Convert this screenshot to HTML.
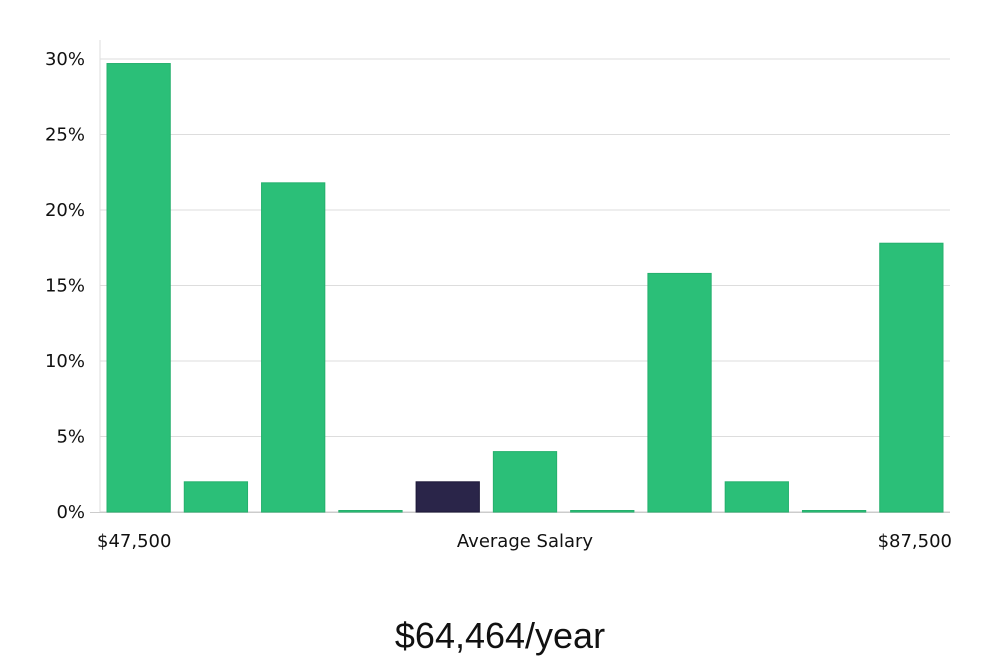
<!DOCTYPE html>
<html><head><meta charset="utf-8"><style>
body{margin:0;background:#fff;width:1000px;height:660px;overflow:hidden;font-family:"DejaVu Sans","Liberation Sans",sans-serif}
</style></head><body>
<svg id="chart" width="1000" height="660" xmlns="http://www.w3.org/2000/svg"></svg>
<script>
const categories=["b1","b2","b3","b4","b5","b6","b7","b8","b9","b10","b11"];
const values=[29.7,2,21.8,0,2,4,0,15.8,2,0,17.8];
const highlight=[false,false,false,false,true,false,false,false,false,false,false];
const yTicks=[0,5,10,15,20,25,30];
const yTickLabels=["0%","5%","10%","15%","20%","25%","30%"];
const ns="http://www.w3.org/2000/svg";
const svg=document.getElementById("chart");
const x0=100,x1=950,y0=512,yTop=59,yMax=30;
const y=v=>y0-(v/yMax)*(y0-yTop);
const band=(x1-x0)/categories.length;
function mk(t,a,txt){const e=document.createElementNS(ns,t);for(const k in a)e.setAttribute(k,a[k]);if(txt!==undefined)e.textContent=txt;svg.appendChild(e);return e;}
yTicks.forEach((t,i)=>{
 const g=mk("line",{x1:x0,x2:x1,y1:y(t),y2:y(t),stroke:t===0?"#ccc":"#ddd","stroke-width":1});
 
 
 const l=mk("text",{x:85,y:y(t)+6,"text-anchor":"end","font-size":18,fill:"#111"},yTickLabels[i]);
 
 
});
const ax=mk("line",{x1:x0,x2:x0,y1:40,y2:y0,stroke:"#ddd","stroke-width":1});


const bl=mk("line",{x1:90,x2:x1,y1:y0+0.5,y2:y0+0.5,stroke:"#ccc","stroke-width":1});


values.forEach((v,i)=>{
 const bx=x0+i*band+7,bw=band-14;
 const top=Math.min(y(v),y0-1.5);
 const r=mk("rect",{x:bx,y:top,width:bw,height:y0-top,fill:highlight[i]?"#2a2549":"#2bbf78",stroke:highlight[i]?"#1c1838":"#25b06d","stroke-width":1});
 
 
});
const a=mk("text",{x:97,y:547,"font-size":18,fill:"#111"},"$47,500");

const b=mk("text",{x:525,y:547,"text-anchor":"middle","font-size":18,fill:"#111"},"Average Salary");

const c=mk("text",{x:952,y:547,"text-anchor":"end","font-size":18,fill:"#111"},"$87,500");

const t=mk("text",{x:500,y:648,"text-anchor":"middle","font-size":36,fill:"#111","font-family":"Liberation Sans, sans-serif"},"$64,464/year");

</script>
</body></html>
